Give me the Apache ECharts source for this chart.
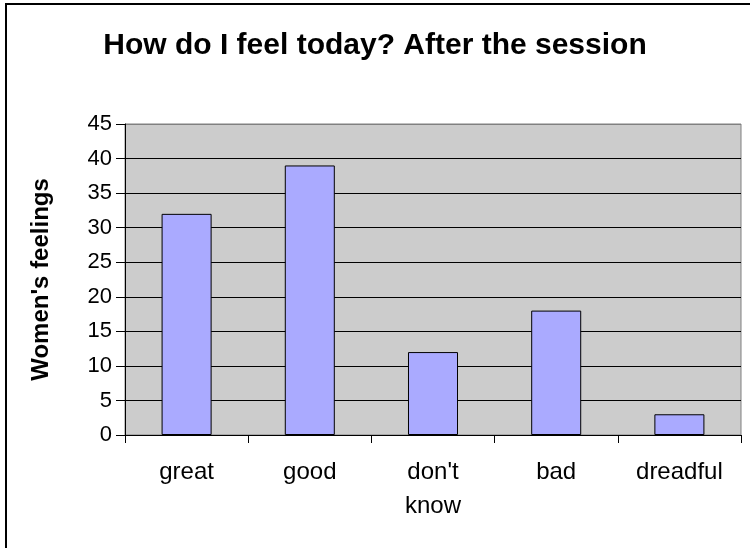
<!DOCTYPE html>
<html>
<head>
<meta charset="utf-8">
<script src="https://cdn.jsdelivr.net/npm/echarts@6/dist/echarts.min.js"></script>
<style>html,body{margin:0;padding:0;background:#fff}#c{width:750px;height:548px}</style>
</head>
<body>
<div id="c"></div>
<script>
var titleText = "How do I feel today? After the session";
var categories = ["great", "good", "don't\nknow", "bad", "dreadful"];
var values = [32, 39, 12, 18, 3];
var yTicks = {min: 0, max: 45, interval: 5};
var yName = "Women's feelings";

var chart = echarts.init(document.getElementById('c'), null, {renderer: 'canvas'});
var font = "'Liberation Sans', Arial, sans-serif";
chart.setOption({
  animation: false,
  backgroundColor: '#fff',
  title: {
    text: titleText, left: 'center', top: 26,
    textStyle: {fontFamily: font, fontSize: 30, fontWeight: 'bold', color: '#000'}
  },
  graphic: [{
    type: 'rect', shape: {x: 6, y: 4, width: 760, height: 560},
    style: {fill: 'none', stroke: '#000', lineWidth: 2}, z: 100
  }],
  grid: {
    left: 125, right: 9, top: 124, bottom: 113,
    show: true, backgroundColor: '#cccccc', borderColor: '#808080', borderWidth: 1
  },
  xAxis: {
    type: 'category', data: categories,
    axisLine: {lineStyle: {color: '#000', width: 1}},
    axisTick: {show: true, length: 8, lineStyle: {color: '#000'}},
    axisLabel: {fontFamily: font, fontSize: 24, color: '#000', margin: 20, lineHeight: 34, interval: 0}
  },
  yAxis: {
    type: 'value', min: yTicks.min, max: yTicks.max, interval: yTicks.interval,
    name: yName, nameLocation: 'middle', nameGap: 72, nameRotate: 90,
    nameTextStyle: {fontFamily: font, fontSize: 24, fontWeight: 'bold', color: '#000'},
    axisLine: {show: true, lineStyle: {color: '#000', width: 1}},
    axisTick: {show: true, length: 9, lineStyle: {color: '#000'}},
    axisLabel: {fontFamily: font, fontSize: 22, color: '#000', margin: 13},
    splitLine: {show: true, lineStyle: {color: ['#000','#000','#000','#000','#000','#000','#000','#000','#000','#808080'], width: 1}}
  },
  series: [{
    type: 'bar', data: values, barWidth: '40.6%',
    itemStyle: {color: '#aaaaff', borderColor: '#000', borderWidth: 1}
  }]
});
</script>
</body>
</html>
